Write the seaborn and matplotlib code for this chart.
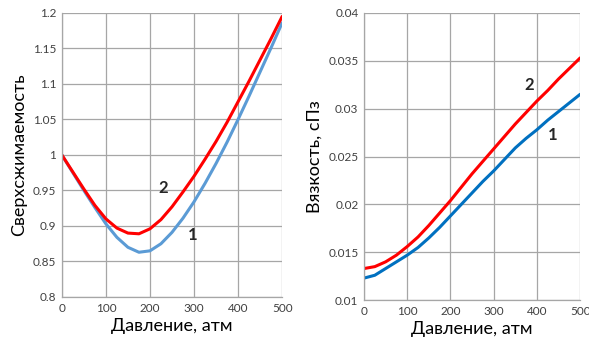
import matplotlib
matplotlib.use("Agg")
import matplotlib.pyplot as plt
import seaborn as sns
import pandas as pd

pressure = [0, 25, 50, 75, 100, 125, 150, 175, 200, 225, 250, 275, 300, 325, 350, 375, 400, 425, 450, 475, 500]
z_curve1 = [1.000, 0.975, 0.950, 0.926, 0.903, 0.884, 0.870, 0.863, 0.865, 0.875, 0.891, 0.911, 0.934, 0.960, 0.988, 1.018, 1.050, 1.083, 1.117, 1.151, 1.186]
z_curve2 = [1.000, 0.976, 0.952, 0.929, 0.910, 0.897, 0.890, 0.889, 0.896, 0.909, 0.927, 0.948, 0.970, 0.994, 1.019, 1.046, 1.075, 1.104, 1.134, 1.164, 1.195]
visc_curve1 = [0.0123, 0.0126, 0.0133, 0.0140, 0.0147, 0.0155, 0.0165, 0.0176, 0.0188, 0.0200, 0.0212, 0.0224, 0.0235, 0.0247, 0.0259, 0.0269, 0.0278, 0.0288, 0.0297, 0.0306, 0.0315]
visc_curve2 = [0.0133, 0.0135, 0.0140, 0.0147, 0.0156, 0.0166, 0.0178, 0.0191, 0.0204, 0.0218, 0.0232, 0.0245, 0.0258, 0.0271, 0.0284, 0.0296, 0.0308, 0.0319, 0.0331, 0.0342, 0.0353]

x_label = "Давление, атм"
y_label_left = "Сверхсжимаемость"
y_label_right = "Вязкость, сПз"

sns.set_style("white")
plt.rcParams['font.family'] = ['Lato', 'DejaVu Sans']

fig = plt.figure(figsize=(5.89, 3.49), dpi=100)
ax1 = fig.add_axes([0.105, 0.149, 0.374, 0.814])
ax2 = fig.add_axes([0.618, 0.140, 0.367, 0.823])

df_left = pd.DataFrame({"p": pressure * 2,
                        "v": z_curve1 + z_curve2,
                        "s": ["1"] * len(pressure) + ["2"] * len(pressure)})
df_right = pd.DataFrame({"p": pressure * 2,
                         "v": visc_curve1 + visc_curve2,
                         "s": ["1"] * len(pressure) + ["2"] * len(pressure)})

sns.lineplot(data=df_left, x="p", y="v", hue="s", ax=ax1,
             palette={"1": "#5B9BD5", "2": "#FF0000"}, linewidth=2.2, legend=False,
             solid_joinstyle="round", solid_capstyle="round")
sns.lineplot(data=df_right, x="p", y="v", hue="s", ax=ax2,
             palette={"1": "#0070C0", "2": "#FF0000"}, linewidth=2.2, legend=False,
             solid_joinstyle="round", solid_capstyle="round")

ax1.set_xlim(0, 500)
ax1.set_ylim(0.8, 1.2)
ax1.set_xticks([0, 100, 200, 300, 400, 500])
ax1.set_yticks([0.8, 0.85, 0.9, 0.95, 1.0, 1.05, 1.1, 1.15, 1.2])
ax1.set_yticklabels(["0.8", "0.85", "0.9", "0.95", "1", "1.05", "1.1", "1.15", "1.2"])

ax2.set_xlim(0, 500)
ax2.set_ylim(0.01, 0.04)
ax2.set_xticks([0, 100, 200, 300, 400, 500])
ax2.set_yticks([0.01, 0.015, 0.02, 0.025, 0.03, 0.035, 0.04])
ax2.set_yticklabels(["0.01", "0.015", "0.02", "0.025", "0.03", "0.035", "0.04"])

for ax, yl in ((ax1, y_label_left), (ax2, y_label_right)):
    ax.grid(True, color="#a6a6a6", linewidth=0.9)
    ax.set_axisbelow(True)
    for side in ("top", "right"):
        ax.spines[side].set_visible(False)
    for side in ("left", "bottom"):
        ax.spines[side].set_color("#a6a6a6")
        ax.spines[side].set_linewidth(0.9)
    ax.tick_params(axis="both", labelsize=8.5, colors="#404040", length=0, pad=4)
    ax.set_xlabel(x_label, fontsize=13, color="#000000", labelpad=3)
    ax.set_ylabel(yl, fontsize=13, color="#000000", labelpad=4)

ax1.text(230, 0.953, "2", fontsize=12, fontweight="bold", ha="center", va="center")
ax1.text(296, 0.888, "1", fontsize=12, fontweight="bold", ha="center", va="center")
ax2.text(382, 0.0325, "2", fontsize=12, fontweight="bold", ha="center", va="center")
ax2.text(437, 0.0272, "1", fontsize=12, fontweight="bold", ha="center", va="center")

fig.savefig("out.png", dpi=100)
